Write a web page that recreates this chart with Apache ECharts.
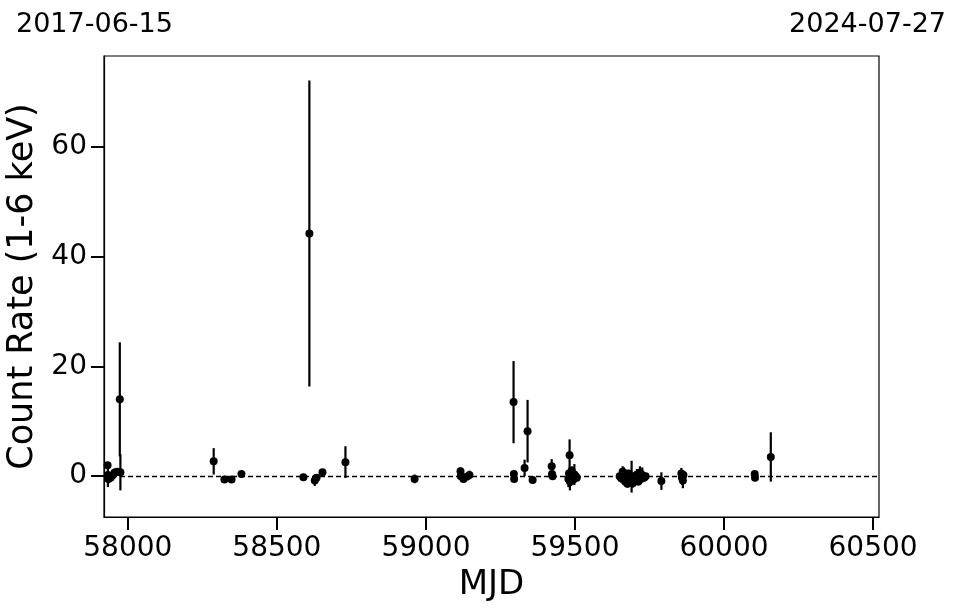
<!DOCTYPE html>
<html>
<head>
<meta charset="utf-8">
<script src="https://cdn.jsdelivr.net/npm/echarts@6/dist/echarts.min.js"></script>
<style>html,body{margin:0;padding:0;background:#fff}#c{width:957px;height:613px}</style>
</head>
<body>
<div id="c"></div>
<script>
const mjd = [57932,57933,57935,57942,57948,57955,57965,57973,57975,
  58288,58324,58348,58381,58589,58609,58627,58633,58653,58730,
  58962,59116,59117,59126,59136,59146,
  59294,59295,59296,59331,59341,59358,59422,59423,59425,59482,
  59478,59480,59483,59485,59487,59489,59491,59493,59495,59498,59500,59503,59506,
  59650,59655,59660,59664,59668,59672,59676,59680,59684,59688,59690,59694,59698,59703,59708,59713,59718,59722,59726,59732,59737,
  59790,59857,59859,59861,59862,59864,60103,60104,60157];
const rate = [2.0,0.2,-0.5,-0.3,0.1,0.6,0.8,14.0,0.7,
  2.7,-0.6,-0.6,0.4,-0.2,44.25,-0.8,-0.3,0.7,2.55,
  -0.5,0.9,0.0,-0.5,-0.1,0.2,
  13.5,0.4,-0.5,1.5,8.2,-0.7,1.8,0.4,0.0,3.8,
  -0.5,0.5,-1.0,0.0,-0.8,1.0,-0.3,0.2,-0.6,0.3,-0.2,0.0,-0.3,
  0.0,-0.4,0.8,0.3,-1.0,0.0,-1.4,0.5,-0.8,-0.2,-0.1,-1.3,0.0,-0.6,0.3,-1.0,0.6,-0.4,0.2,-0.3,0.0,
  -0.9,0.5,-0.3,0.0,-0.8,0.2,0.4,-0.3,3.5];
const err = [0.5,2.2,0.8,0.5,0.6,0.8,0.5,10.4,3.3,
  2.4,0.4,0.4,0.3,0.3,27.9,1.0,0.5,0.4,2.9,
  0.8,0.7,0.5,0.5,0.4,0.8,
  7.5,0.3,0.4,1.5,5.7,0.3,1.3,0.5,0.4,2.9,
  1.5,1.0,1.6,1.2,1.0,0.8,1.2,0.8,0.9,1.9,0.8,0.6,0.5,
  0.5,0.8,1.0,1.3,0.8,1.2,0.7,0.6,1.0,0.6,2.9,0.8,0.6,0.9,1.0,0.7,1.2,0.8,1.4,0.6,0.5,
  1.6,1.0,1.3,0.8,1.4,0.6,0.3,0.3,4.5];
const xTicks = [58000,58500,59000,59500,60000,60500];
const yTicks = [0,20,40,60];
const dateStart = '2017-06-15';
const dateEnd = '2024-07-27';

const pts = mjd.map((m,i)=>[m, rate[i]]);
const bars = mjd.map((m,i)=>[m, rate[i]-err[i], rate[i]+err[i]]);
const FONT = 'DejaVu Sans';

const chart = echarts.init(document.getElementById('c'), null, {renderer:'canvas'});
chart.setOption({
  animation:false,
  backgroundColor:'#fff',
  title:[
    {text:dateStart, left:11, top:6, textStyle:{fontFamily:FONT,fontSize:27,fontWeight:'normal',color:'#000'}},
    {text:dateEnd, right:6, top:6, textStyle:{fontFamily:FONT,fontSize:27,fontWeight:'normal',color:'#000'}}
  ],
  grid:{left:104,right:78,top:56,bottom:96,outerBoundsMode:'none',containLabel:false,show:true,borderColor:'#000',borderWidth:1.2,backgroundColor:'transparent'},
  xAxis:{
    type:'value', min:57920, max:60520,
    name:'MJD', nameLocation:'middle', nameGap:48,
    nameTextStyle:{fontFamily:FONT,fontSize:34,color:'#000'},
    axisLine:{show:true,onZero:false,lineStyle:{color:'#000',width:1.2}},
    axisTick:{show:true,inside:false,length:13,lineStyle:{color:'#000',width:2},customValues:xTicks},
    axisLabel:{fontFamily:FONT,fontSize:28,color:'#000',margin:18,customValues:xTicks,formatter:v=>String(v)},
    splitLine:{show:false}
  },
  yAxis:{
    type:'value', min:-7.45, max:76.6,
    name:'Count Rate (1-6 keV)', nameLocation:'middle', nameGap:48, nameRotate:90,
    nameTextStyle:{fontFamily:FONT,fontSize:35,color:'#000'},
    axisLine:{show:true,onZero:false,lineStyle:{color:'#000',width:1.2}},
    axisTick:{show:true,inside:false,length:13,lineStyle:{color:'#000',width:2},customValues:yTicks},
    axisLabel:{fontFamily:FONT,fontSize:28,color:'#000',margin:17,customValues:yTicks,formatter:v=>String(v)},
    splitLine:{show:false}
  },
  series:[
    {
      type:'custom',
      data:bars,
      z:2,
      renderItem:function(params, api){
        const p1 = api.coord([api.value(0), api.value(1)]);
        const p2 = api.coord([api.value(0), api.value(2)]);
        return {type:'line', shape:{x1:p1[0],y1:p1[1],x2:p2[0],y2:p2[1]}, style:{stroke:'#000',lineWidth:2.2}};
      },
      encode:{x:0,y:[1,2]},
      silent:true
    },
    {
      type:'scatter',
      data:pts,
      symbol:'circle',
      symbolSize:8,
      itemStyle:{color:'#000',opacity:1},
      z:3,
      markLine:{
        silent:true, symbol:['none','none'],
        label:{show:false},
        lineStyle:{color:'#000',width:1.3,type:[5,3]},
        data:[{yAxis:0}]
      }
    }
  ]
});
</script>
</body>
</html>
